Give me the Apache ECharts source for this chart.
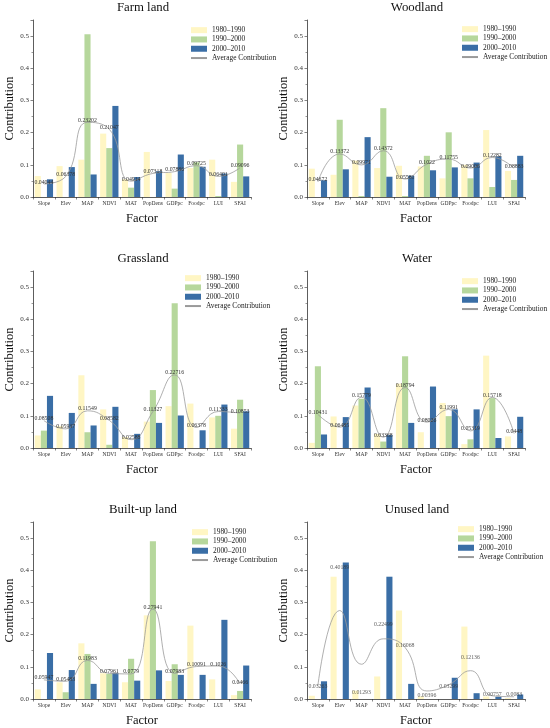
<!DOCTYPE html>
<html>
<head>
<meta charset="utf-8">
<script src="https://cdn.jsdelivr.net/npm/echarts@6/dist/echarts.min.js"></script>
<style>
  html, body { margin: 0; padding: 0; background: #fff; }
  #chart { width: 550px; height: 728px; }
</style>
</head>
<body>
<div id="chart"></div>
<script>
const factors = ['Slope', 'Elev', 'MAP', 'NDVI', 'MAT', 'PopDens', 'GDPpc', 'Foodpc', 'LUI', 'SFAI'];
const periods = ['1980–1990', '1990–2000', '2000–2010'];
const yTicks = [0, 0.1, 0.2, 0.3, 0.4, 0.5];

// Farm land
const farm80 = [0.065, 0.096, 0.116, 0.197, 0.055, 0.140, 0.075, 0.090, 0.116, 0.047];
const farm90 = [0, 0, 0.506, 0.152, 0.029, 0, 0.026, 0.108, 0.003, 0.163];
const farm00 = [0.055, 0.093, 0.070, 0.283, 0.062, 0.080, 0.132, 0.094, 0.073, 0.064];
const farmAvg = [0.04044, 0.06378, 0.23202, 0.21047, 0.04914, 0.07318, 0.07886, 0.09725, 0.06401, 0.09096];

// Woodland
const wood80 = [0.088, 0.069, 0.113, 0.090, 0.097, 0.095, 0.058, 0.100, 0.208, 0.081];
const wood90 = [0, 0.240, 0.003, 0.276, 0.003, 0.128, 0.201, 0.058, 0.031, 0.053];
const wood00 = [0.052, 0.086, 0.186, 0.063, 0.066, 0.083, 0.092, 0.107, 0.126, 0.128];
const woodAvg = [0.04672, 0.13372, 0.09971, 0.14372, 0.05581, 0.1022, 0.11755, 0.09006, 0.12282, 0.08883];

// Grassland
const grass80 = [0.039, 0.068, 0.226, 0.120, 0.034, 0.082, 0.130, 0.138, 0.095, 0.060];
const grass90 = [0.054, 0, 0.049, 0.010, 0, 0.180, 0.450, 0, 0.100, 0.150];
const grass00 = [0.162, 0.109, 0.070, 0.128, 0.044, 0.078, 0.101, 0.055, 0.135, 0.114];
const grassAvg = [0.08508, 0.05937, 0.11549, 0.08582, 0.02588, 0.11327, 0.22716, 0.06378, 0.11333, 0.10853];

// Water
const water80 = [0.016, 0.098, 0.132, 0.044, 0.200, 0.049, 0.140, 0.012, 0.287, 0.036];
const water90 = [0.254, 0, 0.153, 0.020, 0.285, 0, 0.099, 0.027, 0.155, 0];
const water00 = [0.042, 0.096, 0.188, 0.040, 0.078, 0.191, 0.120, 0.120, 0.031, 0.097];
const waterAvg = [0.10431, 0.06485, 0.15779, 0.03368, 0.18794, 0.08026, 0.11991, 0.05319, 0.15718, 0.0448];

// Built-up land
const built80 = [0.030, 0.052, 0.173, 0.080, 0.052, 0.260, 0.056, 0.228, 0.061, 0.012];
const built90 = [0, 0.021, 0.140, 0.078, 0.125, 0.490, 0.108, 0, 0, 0.025];
const built00 = [0.143, 0.090, 0.047, 0.081, 0.057, 0.089, 0.075, 0.075, 0.246, 0.104];
const builtAvg = [0.05947, 0.05483, 0.11983, 0.07961, 0.0779, 0.27941, 0.07983, 0.10091, 0.1026, 0.0466];

// Unused land (curve and labels don't coincide in the original)
const unused80 = [0.010, 0.380, 0.026, 0.070, 0.275, 0.008, 0, 0.225, 0.008, 0.003];
const unused90 = [0, 0, 0, 0, 0, 0, 0, 0, 0, 0];
const unused00 = [0.055, 0.424, 0, 0.380, 0.047, 0, 0.066, 0.018, 0.007, 0.014];
const unusedAvg = [0.03263, 0.40189, 0.01293, 0.22499, 0.16068, 0.00396, 0.03299, 0.12136, 0.00757, 0.0083];
const unusedCurve = [0.042, 0.275, 0.108, 0.187, 0.160, 0.025, 0.044, 0.088, 0.010, 0.007];

const colors = ['#FFF6C4', '#B6D79C', '#3A6EA6'];
const serif = 'Liberation Serif';

const panels = [
    { title: 'Farm land', bars: [farm80, farm90, farm00], avg: farmAvg, left: 33, top: 20, legend: [190, 26] },
    { title: 'Woodland', bars: [wood80, wood90, wood00], avg: woodAvg, left: 307, top: 20, legend: [461, 25] },
    { title: 'Grassland', bars: [grass80, grass90, grass00], avg: grassAvg, left: 33, top: 271, legend: [184, 274] },
    { title: 'Water', bars: [water80, water90, water00], avg: waterAvg, left: 307, top: 271, legend: [461, 277] },
    { title: 'Built-up land', bars: [built80, built90, built00], avg: builtAvg, left: 33, top: 522, legend: [191, 528] },
    { title: 'Unused land', bars: [unused80, unused90, unused00], avg: unusedAvg, curve: unusedCurve, left: 307, top: 522, legend: [457, 525] }
];

let chartDom = document.getElementById('chart');
let myChart = echarts.init(chartDom, null, { renderer: 'canvas' });
let option;

let grids = [], xAxes = [], yAxes = [], titles = [], legends = [], series = [];

const valueLabel = {
    show: true, position: 'inside', offset: [0, -2],
    fontFamily: serif, fontSize: 5.8, color: '#333',
    formatter: function (d) { return d.value; }
};

panels.forEach(function (p, i) {
    grids.push({ left: p.left, top: p.top, width: 218, height: 177 });

    titles.push({
        text: p.title,
        left: p.left + 110,
        top: p.top - 19,
        padding: 0,
        textAlign: 'center',
        textStyle: { fontFamily: serif, fontSize: 12.8, fontWeight: 'normal', color: '#111' }
    });

    legends.push({
        left: p.legend[0],
        top: p.legend[1],
        orient: 'vertical',
        padding: 0,
        itemWidth: 16,
        itemHeight: 6,
        itemGap: 1,
        selectedMode: false,
        textStyle: { fontFamily: serif, fontSize: 7.4, color: '#222', lineHeight: 8.3 },
        data: [
            { name: periods[0], icon: 'rect' },
            { name: periods[1], icon: 'rect' },
            { name: periods[2], icon: 'rect' },
            { name: 'Average Contribution' }
        ]
    });

    xAxes.push({
        type: 'category',
        gridIndex: i,
        data: factors,
        name: 'Factor',
        nameLocation: 'middle',
        nameGap: 15,
        nameTextStyle: { fontFamily: serif, fontSize: 12.5, color: '#111' },
        axisLine: { lineStyle: { color: '#333', width: 0.8 } },
        axisTick: { show: true, length: 2.5, lineStyle: { color: '#333', width: 0.6 } },
        axisLabel: { interval: 0, fontFamily: serif, fontSize: 5.5, color: '#333', margin: 4 }
    });

    yAxes.push({
        type: 'value',
        gridIndex: i,
        min: 0,
        max: 0.55,
        interval: 0.1,
        name: 'Contribution',
        nameLocation: 'middle',
        nameGap: 13,
        nameTextStyle: { fontFamily: serif, fontSize: 12.5, color: '#111' },
        splitLine: { show: false },
        axisLine: { show: true, lineStyle: { color: '#333', width: 0.8 } },
        axisTick: { show: true, length: 2.5, lineStyle: { color: '#333', width: 0.6 } },
        minorTick: { show: true, splitNumber: 2, length: 1.5, lineStyle: { color: '#333', width: 0.5 } },
        axisLabel: {
            fontFamily: serif, fontSize: 7, color: '#333', margin: 4,
            formatter: function (v) { return yTicks.indexOf(Math.round(v * 10) / 10) >= 0 && v <= 0.5 ? v.toFixed(1) : ''; }
        }
    });

    p.bars.forEach(function (vals, k) {
        series.push({
            name: periods[k],
            type: 'bar',
            xAxisIndex: i,
            yAxisIndex: i,
            data: vals,
            barGap: '0%',
            barCategoryGap: '16%',
            itemStyle: { color: colors[k] },
            emphasis: { disabled: true },
            z: 2
        });
    });

    series.push({
        name: 'Average Contribution',
        type: 'line',
        xAxisIndex: i,
        yAxisIndex: i,
        data: p.curve ? p.curve : p.avg,
        smooth: 0.5,
        symbol: 'circle',
        symbolSize: 1,
        showSymbol: true,
        lineStyle: { color: '#9a9a9a', width: 0.8 },
        itemStyle: { color: 'rgba(0,0,0,0)' },
        label: p.curve ? { show: false } : valueLabel,
        emphasis: { disabled: true },
        z: 5
    });

    if (p.curve) {
        series.push({
            name: 'avgLabel',
            type: 'scatter',
            xAxisIndex: i,
            yAxisIndex: i,
            data: p.avg,
            symbolSize: 1,
            itemStyle: { color: 'rgba(0,0,0,0)' },
            label: valueLabel,
            emphasis: { disabled: true },
            z: 6
        });
    }
});

option = {
    backgroundColor: '#fff',
    animation: false,
    title: titles,
    legend: legends,
    grid: grids,
    xAxis: xAxes,
    yAxis: yAxes,
    series: series
};

option && myChart.setOption(option);
</script>
</body>
</html>
